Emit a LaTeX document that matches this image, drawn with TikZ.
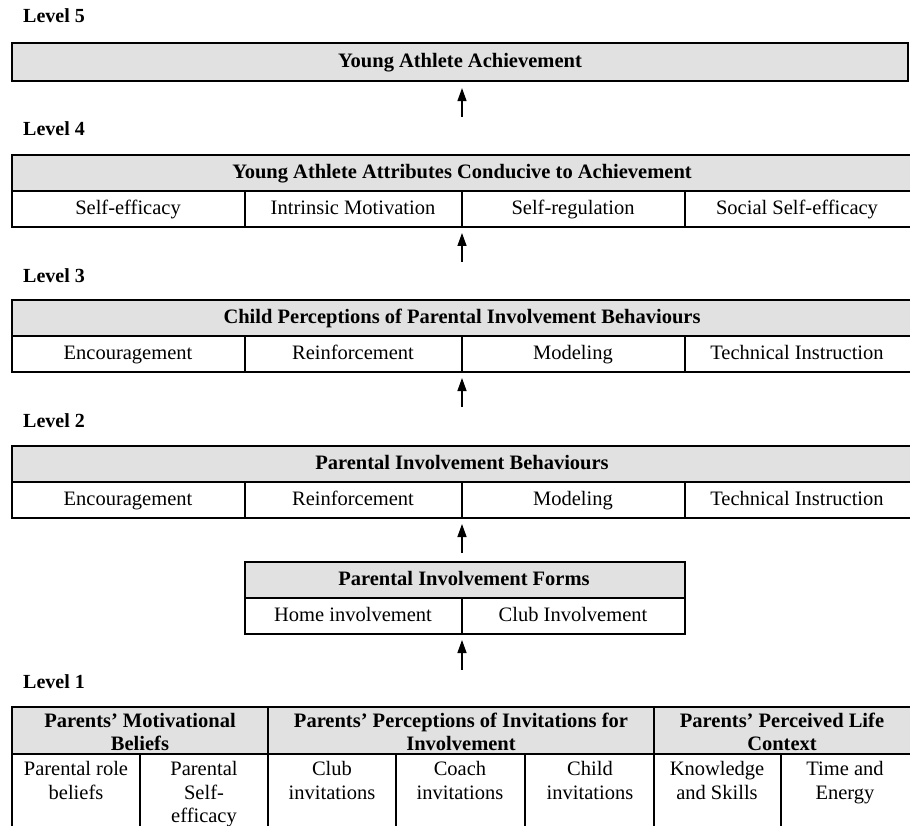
\documentclass[tikz,border=0pt]{standalone}
\usepackage{fontspec}
\setmainfont{Liberation Serif}
\usetikzlibrary{arrows.meta}
\definecolor{hdr}{HTML}{E1E1E1}
\begin{document}
\begin{tikzpicture}[x=1pt,y=-1pt,
  font=\fontsize{20.5}{23.5}\selectfont,
  every node/.style={inner sep=0pt, text height=2.6ex, text depth=.2ex},
  lvl/.style={anchor=west, font=\fontsize{20}{23}\selectfont\bfseries},
  hd/.style={align=center, font=\fontsize{20.5}{23}\selectfont\bfseries},
  multi/.style={text height={}, text depth={}},
  cell/.style={align=center},
  tcell/.style={align=center, anchor=north, multi},
  rule/.style={line width=1.1pt},
  heavy/.style={line width=2.2pt},
  arr/.style={line width=1.4pt, -{Triangle[length=13pt,width=9pt]}, shorten >=6pt}]
\useasboundingbox (0,0) rectangle (910,826);

% Level 5
\node[lvl] (lv5) at (23,17) {Level 5};
\node[draw, heavy, fill=hdr, minimum width=896pt, minimum height=38pt,
      font=\fontsize{20.5}{23}\selectfont\bfseries] (b5) at (460,62) {Young Athlete Achievement};

% Level 4
\node[lvl] (lv4) at (23,130) {Level 4};
\fill[hdr] (12,155) rectangle (910,191);
\draw[rule] (910,155) -- (12,155) -- (12,227) -- (910,227);
\draw[rule] (12,191) -- (910,191);
\foreach \x in {245,462,685} \draw[rule] (\x,191) -- (\x,227);
\coordinate (b4s) at (462,227);
\node[hd] (h4) at (462,173) {Young Athlete Attributes Conducive to Achievement};
\node[cell] (c41) at (128,209) {Self-efficacy};
\node[cell] (c42) at (353,209) {Intrinsic Motivation};
\node[cell] (c43) at (573,209) {Self-regulation};
\node[cell] (c44) at (797,209) {Social Self-efficacy};

% Level 3
\node[lvl] (lv3) at (23,277) {Level 3};
\fill[hdr] (12,300) rectangle (910,336);
\draw[rule] (910,300) -- (12,300) -- (12,372) -- (910,372);
\draw[rule] (12,336) -- (910,336);
\foreach \x in {245,462,685} \draw[rule] (\x,336) -- (\x,372);
\coordinate (b3s) at (462,372);
\node[hd] (h3) at (462,318) {Child Perceptions of Parental Involvement Behaviours};
\node[cell] (c31) at (128,354) {Encouragement};
\node[cell] (c32) at (353,354) {Reinforcement};
\node[cell] (c33) at (573,354) {Modeling};
\node[cell] (c34) at (797,354) {Technical Instruction};

% Level 2
\node[lvl] (lv2) at (23,422) {Level 2};
\fill[hdr] (12,446) rectangle (910,482);
\draw[rule] (910,446) -- (12,446) -- (12,518) -- (910,518);
\draw[rule] (12,482) -- (910,482);
\foreach \x in {245,462,685} \draw[rule] (\x,482) -- (\x,518);
\coordinate (b2s) at (462,518);
\node[hd] (h2) at (462,464) {Parental Involvement Behaviours};
\node[cell] (c21) at (128,500) {Encouragement};
\node[cell] (c22) at (353,500) {Reinforcement};
\node[cell] (c23) at (573,500) {Modeling};
\node[cell] (c24) at (797,500) {Technical Instruction};

% Forms
\fill[hdr] (245,562) rectangle (685,598);
\draw[rule] (245,562) rectangle (685,634);
\draw[rule] (245,598) -- (685,598);
\draw[rule] (462,598) -- (462,634);
\coordinate (bfs) at (462,634);
\node[hd] (hf) at (464,580) {Parental Involvement Forms};
\node[cell] (cf1) at (353,616) {Home involvement};
\node[cell] (cf2) at (573,616) {Club Involvement};

% Level 1
\node[lvl] (lv1) at (23,683) {Level 1};
\fill[hdr] (12,707) rectangle (910,754);
\draw[rule] (910,707) -- (12,707) -- (12,826);
\draw[heavy] (12,754) -- (910,754);
\foreach \x in {268,654} \draw[rule] (\x,707) -- (\x,826);
\foreach \x in {140,396,525,781} \draw[rule] (\x,754) -- (\x,826);
\node[hd, multi] (h11) at (140,731.5) {Parents’ Motivational\\Beliefs};
\node[hd, multi] (h12) at (461,731.5) {Parents’ Perceptions of Invitations for\\Involvement};
\node[hd, multi] (h13) at (782,731.5) {Parents’ Perceived Life\\Context};
\node[tcell] (s1) at (76,761.5) {Parental role\\beliefs};
\node[tcell] (s2) at (204,761.5) {Parental\\Self-\\efficacy};
\node[tcell] (s3) at (332,761.5) {Club\\invitations};
\node[tcell] (s4) at (460,761.5) {Coach\\invitations};
\node[tcell] (s5) at (590,761.5) {Child\\invitations};
\node[tcell] (s6) at (717,761.5) {Knowledge\\and Skills};
\node[tcell] (s7) at (845,761.5) {Time and\\Energy};

% arrows
\coordinate (a1) at (462,117);
\coordinate (a2) at (462,262);
\coordinate (a3) at (462,407);
\coordinate (a4) at (462,553);
\coordinate (a5) at (462,670);
\draw[arr] (a1) -- (a1 |- b5.south);
\draw[arr] (a2) -- (b4s);
\draw[arr] (a3) -- (b3s);
\draw[arr] (a4) -- (b2s);
\draw[arr] (a5) -- (bfs);
\end{tikzpicture}
\end{document}
